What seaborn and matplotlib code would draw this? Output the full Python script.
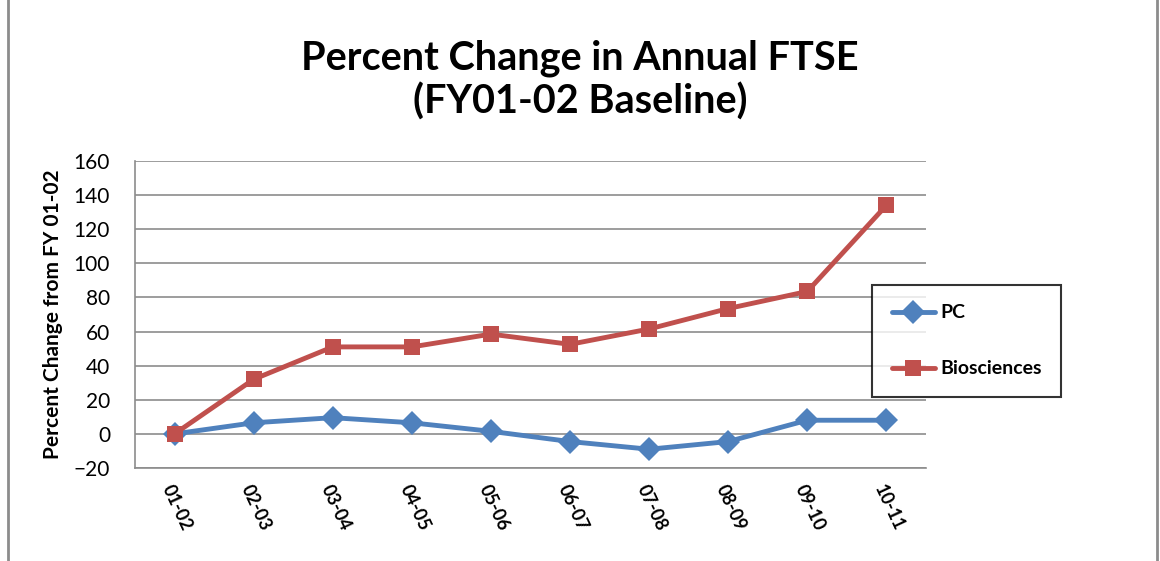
import matplotlib
matplotlib.use('Agg')
import matplotlib.pyplot as plt
import matplotlib.patches as patches
import numpy as np
import pandas as pd
import seaborn as sns

# values
years = ['01-02', '02-03', '03-04', '04-05', '05-06', '06-07', '07-08', '08-09', '09-10', '10-11']
pc = [0, 6.5, 9.5, 6.5, 1.5, -4.5, -9, -4.5, 8, 8]
bio = [0, 32, 51, 51, 58.5, 52.5, 61.5, 73.5, 83.5, 134]
series = ['PC', 'Biosciences']

df = pd.DataFrame({
    'Year': years * 2,
    'Change': pc + bio,
    'Series': ['PC'] * len(years) + ['Biosciences'] * len(years),
})

sns.set_style("white")
plt.rcParams['font.family'] = ['Lato', 'DejaVu Sans']
plt.rcParams['text.color'] = 'black'
plt.rcParams['xtick.color'] = 'black'
plt.rcParams['ytick.color'] = 'black'
plt.rcParams['axes.labelcolor'] = 'black'

fig = plt.figure(figsize=(11.6, 5.61), dpi=100)
ax = fig.add_axes([0.1164, 0.1658, 0.6818, 0.5472])

ax.yaxis.grid(True, color='#8c8c8c', linewidth=1.2)
ax.set_axisbelow(True)

sns.lineplot(data=df, x='Year', y='Change', hue='Series', style='Series',
             hue_order=series, style_order=series,
             palette={'PC': '#4F81BD', 'Biosciences': '#C0504D'},
             markers={'PC': 'D', 'Biosciences': 's'}, dashes=False,
             linewidth=3.5, markersize=12, markeredgewidth=0, ax=ax, sort=False)

ax.set_xlim(-0.5, len(years) - 0.5)
ax.set_ylim(-20, 160)
ax.set_yticks(np.arange(-20, 161, 20))
ax.tick_params(axis='y', labelsize=15, length=0, pad=18)
ax.tick_params(axis='x', length=0, pad=10)
plt.setp(ax.get_xticklabels(), rotation=-65, ha='left', rotation_mode='anchor',
         fontsize=13, fontweight='bold')

for s in ['top', 'right']:
    ax.spines[s].set_visible(False)
for s in ['left', 'bottom']:
    ax.spines[s].set_color('#8c8c8c')
    ax.spines[s].set_linewidth(1.2)

ax.set_xlabel('')
ax.set_ylabel('Percent Change from FY 01-02', fontsize=15, fontweight='bold', labelpad=8)

fig.suptitle('Percent Change in Annual FTSE\n(FY01-02 Baseline)', x=0.5, y=0.93,
             fontsize=28.5, fontweight='bold', linespacing=1.2)

leg = ax.legend(loc='upper left', bbox_to_anchor=(0.752, 0.492),
                bbox_transform=fig.transFigure, frameon=True, fancybox=False,
                edgecolor='black', fontsize=14, labelspacing=2.0,
                handlelength=2.2, handletextpad=0.3, borderpad=1.0,
                borderaxespad=0)
leg.get_frame().set_linewidth(1.5)
for t in leg.get_texts():
    t.set_fontweight('bold')

# outer chart frame (only the sides show in the reference)
fig.add_artist(patches.Rectangle((0.007, -0.02), 0.99, 1.05, transform=fig.transFigure,
                                 fill=False, edgecolor='#8c8c8c', linewidth=2))

fig.savefig('out.png', dpi=100)
